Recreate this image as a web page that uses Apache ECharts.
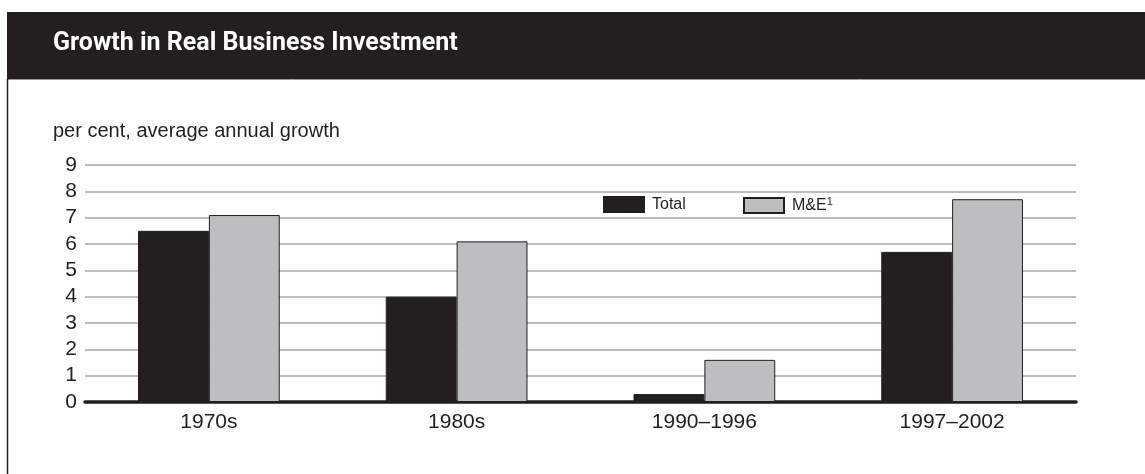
<!DOCTYPE html>
<html>
<head>
<meta charset="utf-8">
<script src="https://cdn.jsdelivr.net/npm/echarts@6/dist/echarts.min.js"></script>
<style>
  html, body { margin: 0; padding: 0; background: #fff; }
  #chart { width: 1145px; height: 474px; }
</style>
</head>
<body>
<div id="chart"></div>
<script>
// data
const categories = ['1970s', '1980s', '1990\u20131996', '1997\u20132002']
const totalValues = [6.5, 4.0, 0.3, 5.7]
const meValues = [7.1, 6.1, 1.6, 7.7]
const yTicks = [0, 1, 2, 3, 4, 5, 6, 7, 8, 9]

const dark = '#231f20'
const grey = '#bcbec0'
const font = '"Liberation Sans", Arial, sans-serif'

const chart = echarts.init(document.getElementById('chart'))

const option = {
  animation: false,
  graphic: [
    { type: 'rect', shape: { x: 7, y: 12, width: 1138, height: 67 }, style: { fill: dark } },
    { type: 'line', shape: { x1: 7, y1: 79.5, x2: 1145, y2: 79.5 }, style: { stroke: '#9a9a9a', lineWidth: 1 } },
    { type: 'line', shape: { x1: 7.5, y1: 79, x2: 7.5, y2: 474 }, style: { stroke: dark, lineWidth: 1.5 } },
    {
      type: 'text', left: 53, top: 31,
      style: { text: 'Growth in Real Business Investment', fill: '#fff', font: 'bold 25px "Liberation Sans Narrow", "Roboto", sans-serif' }
    },
    {
      type: 'text', left: 53, top: 121,
      style: { text: 'per cent, average annual growth', fill: dark, font: '20px ' + font }
    }
  ],
  legend: [
    {
      data: ['Total'], left: 603, top: 196, padding: 0, itemWidth: 40, itemHeight: 15, itemGap: 0, icon: 'rect',
      textStyle: { fontFamily: font, fontSize: 16, color: dark, padding: [0, 0, 0, 3] }
    },
    {
      data: ['M&E'], left: 743, top: 196, padding: 0, itemWidth: 40, itemHeight: 15, icon: 'rect',
      formatter: '{n|M&E}{s|1}',
      textStyle: {
        fontFamily: font, fontSize: 16, color: dark,
        rich: {
          n: { fontFamily: font, fontSize: 16, color: dark, padding: [0, 0, 0, 3] },
          s: { fontFamily: font, fontSize: 11, color: dark, verticalAlign: 'top', padding: [0, 0, 8, 0] }
        }
      }
    }
  ],
  grid: { left: 85, right: 69, top: 165, bottom: 72 },
  xAxis: {
    type: 'category',
    data: categories,
    axisTick: { show: false },
    axisLine: { lineStyle: { color: dark, width: 3.5 } },
    axisLabel: { fontFamily: font, fontSize: 21, color: dark, margin: 10 }
  },
  yAxis: {
    type: 'value',
    min: yTicks[0],
    max: yTicks[yTicks.length - 1],
    interval: 1,
    axisLine: { show: false },
    axisTick: { show: false },
    axisLabel: { fontFamily: font, fontSize: 21, color: dark, margin: 8 },
    splitLine: { lineStyle: { color: '#a7a7a7', width: 1.5 } }
  },
  series: [
    {
      name: 'Total', type: 'bar', data: totalValues, barWidth: '28.6%', barGap: '0%',
      itemStyle: { color: dark, borderColor: dark, borderWidth: 1 }
    },
    {
      name: 'M&E', type: 'bar', data: meValues, barWidth: '28.6%', barGap: '0%',
      itemStyle: { color: grey, borderColor: dark, borderWidth: 1 }
    }
  ]
}

chart.setOption(option)
</script>
</body>
</html>
